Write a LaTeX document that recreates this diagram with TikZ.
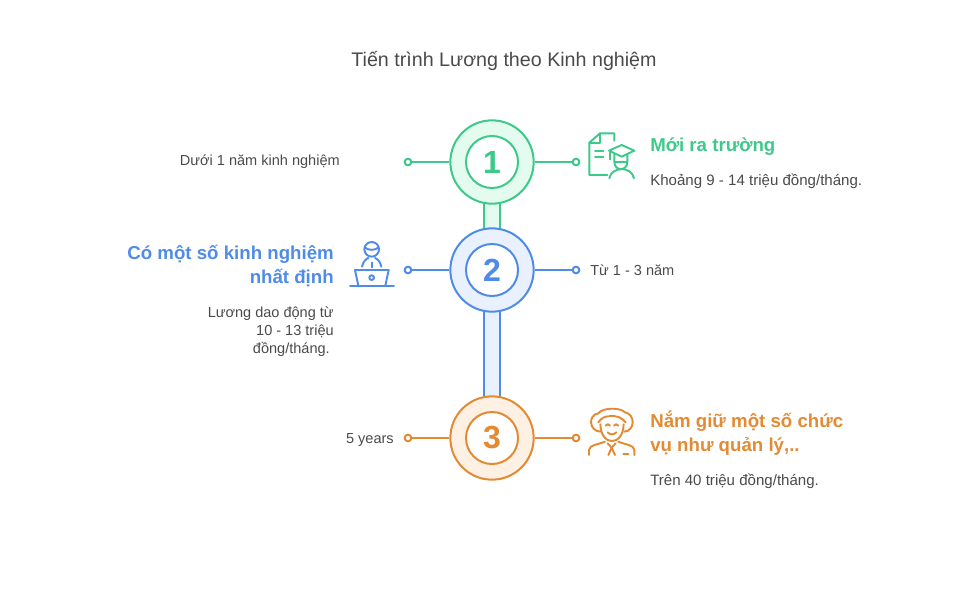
\documentclass[tikz,border=0pt]{standalone}
\usepackage{fontspec}
\setmainfont{Liberation Sans}
\definecolor{cg}{HTML}{3DC98A}\definecolor{cgf}{HTML}{E4FCEF}
\definecolor{cb}{HTML}{4F8BE8}\definecolor{cbf}{HTML}{EAF1FE}
\definecolor{co}{HTML}{E38A32}\definecolor{cof}{HTML}{FEF0E3}
\definecolor{ct}{HTML}{4A4A4A}
\tikzset{
 outer/.style={circle,draw=#1,line width=1.5pt,minimum size=62.5pt,inner sep=0pt},
 inner/.style={circle,draw=#1,fill=white,line width=1.5pt,minimum size=39pt,inner sep=0pt,font=\fontsize{24}{24}\selectfont\bfseries,text=#1},
 dot/.style={circle,draw=#1,fill=white,line width=1.5pt,minimum size=5pt,inner sep=0pt},
 arm/.style={draw=#1,line width=1.5pt},
 bar/.style={draw=#1,line width=1.5pt},
 body/.style={font=\fontsize{10.9}{13.5}\selectfont,text=ct,inner sep=0pt},
 bodyw/.style={font=\fontsize{11.3}{13.5}\selectfont,text=ct,inner sep=0pt},
 head/.style={font=\fontsize{14}{18}\selectfont\bfseries,text=#1,inner sep=0pt},
 ico/.style={draw=#1,line width=1.45pt,line cap=round,line join=round},
}
\begin{document}
\begin{tikzpicture}[x=0.75pt,y=-0.75pt]
\useasboundingbox (0,0) rectangle (960,589);
\node[font=\fontsize{14.75}{18}\selectfont,text=ct,inner sep=0pt,anchor=base] (title) at (504,66) {Tiến trình Lương theo Kinh nghiệm};
% bars
\coordinate (b1a) at (484,200);\coordinate (b1b) at (500,232);
\coordinate (b2a) at (484,308);\coordinate (b2b) at (500,400);
\draw[bar=cg,fill=cgf] (b1a) rectangle (b1b);
\draw[bar=cb,fill=cbf] (b2a) rectangle (b2b);
% circles
\node[outer=cg,fill=cgf] (o1) at (492,162) {};
\node[outer=cb,fill=cbf] (o2) at (492,270) {};
\node[outer=co,fill=cof] (o3) at (492,438) {};
\node[inner=cg] (n1) at (492,162) {1};
\node[inner=cb] (n2) at (492,270) {2};
\node[inner=co] (n3) at (492,438) {3};
% dots
\node[dot=cg] (l1) at (408,162) {};\node[dot=cg] (r1) at (576,162) {};
\node[dot=cb] (l2) at (408,270) {};\node[dot=cb] (r2) at (576,270) {};
\node[dot=co] (l3) at (408,438) {};\node[dot=co] (r3) at (576,438) {};
\draw[arm=cg] (l1)--(o1);\draw[arm=cg] (o1)--(r1);
\draw[arm=cb] (l2)--(o2);\draw[arm=cb] (o2)--(r2);
\draw[arm=co] (l3)--(o3);\draw[arm=co] (o3)--(r3);
% texts
\node[body,anchor=base east] (t1) at (340,165) {Dưới 1 năm kinh nghiệm};
\node[head=cg,anchor=base west] (h1) at (650,151) {Mới ra trường};
\node[bodyw,anchor=base west] (d1) at (650,185) {Khoảng 9 - 14 triệu đồng/tháng.};
\node[head=cb,anchor=base east] (h2a) at (334,259) {Có một số kinh nghiệm};
\node[head=cb,anchor=base east] (h2b) at (334,283) {nhất định};
\node[body,anchor=base east] (d2a) at (334,317) {Lương dao động từ};
\node[body,anchor=base east] (d2b) at (334,335) {10 - 13 triệu};
\node[body,anchor=base east] (d2c) at (330,353) {đồng/tháng.};
\node[body,anchor=base west] (t2) at (590,275) {Từ 1 - 3 năm};
\node[body,anchor=base east] (t3) at (394,443) {5 years};
\node[head=co,anchor=base west] (h3a) at (650,427) {Nắm giữ một số chức};
\node[head=co,anchor=base west] (h3b) at (650,451) {vụ như quản lý,..};
\node[bodyw,anchor=base west] (d3) at (650,485) {Trên 40 triệu đồng/tháng.};
% icon 1
\begin{scope}[shift={(570,120)},x=0.25pt,y=-0.25pt]
\draw[ico=cg] (133,62)--(133,40)--(90,40)--(58,68)--(58,165)--(112,165);
\draw[ico=cg] (90,40)--(90,68)--(58,68);
\draw[ico=cg] (75,93)--(100,93) (75,110)--(100,110);
\draw[ico=cg] (117,92)--(155,75)--(193,92)--(155,110)--cycle;
\draw[ico=cg] (120,95)--(120,118);
\draw[ico=cg] (133,103)--(133,125) .. controls (133,155) and (172,155) .. (172,125)--(172,103);
\draw[ico=cg] (133,125)--(172,125);
\draw[ico=cg] (118,175) .. controls (125,138) and (185,138) .. (192,175);
\end{scope}
% icon 2
\begin{scope}[shift={(340,230)},x=0.25pt,y=-0.25pt]
\draw[ico=cb] (95,58) circle[radius=22];
\draw[ico=cb] (74,52) .. controls (85,62) and (105,62) .. (116,52);
\draw[ico=cb] (66,110) .. controls (70,92) and (80,86) .. (85,84);
\draw[ico=cb] (124,110) .. controls (120,92) and (110,86) .. (105,84);
\draw[ico=cb] (95,98)--(95,112);
\draw[ico=cb] (55,167)--(45,120)--(146,120)--(136,167);
\draw[ico=cb] (95,143) circle[radius=7];
\draw[ico=cb] (30,167)--(162,167);
\end{scope}
% icon 3
\begin{scope}[shift={(575,395)},x=0.25pt,y=-0.25pt]
\draw[ico=co] (76,110) .. controls (42,108) and (38,60) .. (70,55) .. controls (82,38) and (135,36) .. (150,52) .. controls (182,58) and (180,108) .. (148,110);
\draw[ico=co] (70,82) .. controls (78,70) and (90,64) .. (100,64) (120,64) .. controls (130,64) and (142,70) .. (152,82);
\draw[ico=co] (76,88) .. controls (78,155) and (144,155) .. (146,88);
\draw[ico=co] (103,63)--(118,63);
\draw[ico=co] (92,92) .. controls (96,86) and (102,86) .. (105,92) (117,92) .. controls (120,86) and (126,86) .. (130,92);
\draw[ico=co] (98,112) .. controls (105,120) and (116,120) .. (124,112);
\draw[ico=co] (42,180)--(42,165) .. controls (42,150) and (72,148) .. (90,140);
\draw[ico=co] (178,180)--(178,165) .. controls (178,150) and (148,148) .. (130,140);
\draw[ico=co] (98,145)--(110,158)--(122,145);
\draw[ico=co] (100,180)--(110,158)--(120,180);
\draw[ico=co] (145,178)--(160,178);
\end{scope}
\end{tikzpicture}
\end{document}
